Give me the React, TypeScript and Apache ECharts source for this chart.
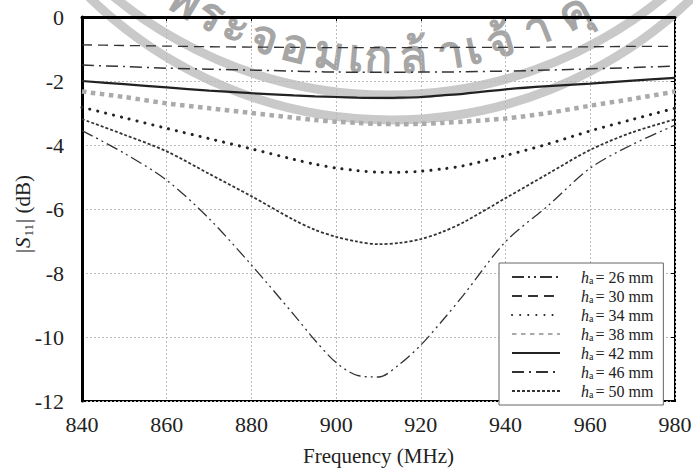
import React, { useEffect, useRef } from "react";
import * as echarts from "echarts";

const freqs = [840, 850, 860, 870, 880, 890, 895, 900, 905, 910, 915, 920, 925, 930, 940, 950, 960, 970, 980];
const h26 = [-3.55, -4.26, -5.1, -6.3, -7.75, -9.3, -10.1, -10.8, -11.2, -11.25, -10.85, -10.25, -9.5, -8.7, -7.02, -5.9, -4.72, -3.98, -3.38];
const h30 = [-0.87, -0.89, -0.91, -0.93, -0.94, -0.95, -0.955, -0.96, -0.96, -0.96, -0.96, -0.96, -0.955, -0.95, -0.95, -0.94, -0.93, -0.92, -0.92];
const h34 = [-2.82, -3.15, -3.48, -3.8, -4.12, -4.45, -4.6, -4.72, -4.8, -4.85, -4.85, -4.82, -4.75, -4.65, -4.33, -3.97, -3.56, -3.2, -2.85];
const h38 = [-2.33, -2.5, -2.7, -2.85, -3.0, -3.15, -3.22, -3.27, -3.31, -3.34, -3.35, -3.34, -3.31, -3.27, -3.17, -3.0, -2.77, -2.56, -2.33];
const h42 = [-2.0, -2.1, -2.2, -2.3, -2.38, -2.45, -2.48, -2.5, -2.52, -2.53, -2.52, -2.5, -2.45, -2.4, -2.26, -2.16, -2.08, -1.99, -1.9];
const h46 = [-1.5, -1.55, -1.6, -1.63, -1.66, -1.69, -1.71, -1.72, -1.73, -1.73, -1.73, -1.72, -1.72, -1.71, -1.69, -1.66, -1.62, -1.58, -1.53];
const h50 = [-3.19, -3.68, -4.2, -4.9, -5.6, -6.34, -6.65, -6.87, -7.02, -7.1, -7.06, -6.94, -6.72, -6.42, -5.66, -4.9, -4.15, -3.6, -3.2];

const heights = ["26", "30", "34", "38", "42", "46", "50"];
const seriesValues = [h26, h30, h34, h38, h42, h46, h50];
const xTicks = { min: 840, max: 980, interval: 20 };
const yTicks = { min: -12, max: 0, interval: 2 };

const SERIF = "Liberation Serif";

const lineStyles: any[] = [
  { color: "#333", width: 1.3, type: [12, 4, 2, 4, 2, 4] },
  { color: "#333", width: 1.3, type: [10, 6] },
  { color: "#222", width: 3, type: [0.1, 8], cap: "round" },
  { color: "#aaa", width: 4.5, type: [4.5, 4.5], cap: "butt" },
  { color: "#222", width: 2.2, type: "solid" },
  { color: "#333", width: 1.5, type: [12, 5, 2, 5] },
  { color: "#333", width: 1.8, type: [3, 2] },
];

// watermark (scanned seal text)
const thai = ["พ", "ร", "ะ", "จ", "อ", "ม", "เ", "ก", "ล้", "า", "เ", "จ้", "า", "คุ"];
const thaiX = [186, 212, 237, 265, 296, 330, 356, 378, 413, 450, 473, 500, 536, 573];

export default function App() {
  const ref = useRef<HTMLDivElement>(null);
  useEffect(() => {
    const chart = echarts.init(ref.current!, null, { renderer: "svg" });

    const wmCx = 389, wmCy = -339, wmR = 394;
    const textEls = thai.map((ch, i) => {
      const th = Math.acos(Math.max(-1, Math.min(1, (thaiX[i] - wmCx) / wmR)));
      const deg = (th * 180) / Math.PI;
      return {
        type: "text",
        x: wmCx + wmR * Math.cos(th),
        y: wmCy + wmR * Math.sin(th),
        rotation: (-(deg - 90) * Math.PI) / 180,
        style: {
          text: ch,
          fill: "rgba(150,150,150,0.85)",
          font: "bold 46px 'Noto Sans', 'DejaVu Sans', sans-serif",
          align: "center",
          verticalAlign: "middle",
        },
        z: 0,
      };
    });

    const names = heights.map((h) => `ha = ${h} mm`);
    const yNameStyle = (text: string, font: string) => ({
      text, font, fill: "#222", align: "left", verticalAlign: "middle",
    });

    chart.setOption({
      animation: false,
      backgroundColor: "#fff",
      grid: {
        left: 82, right: 18, top: 17, bottom: 69,
        containLabel: false, outerBoundsMode: "none",
        show: true, borderColor: "#000", borderWidth: 2, backgroundColor: "transparent",
      },
      xAxis: [
        {
          type: "value",
          ...xTicks,
          name: "Frequency (MHz)",
          nameLocation: "middle",
          nameGap: 44,
          nameTextStyle: { fontFamily: SERIF, fontSize: 21, color: "#222" },
          axisLine: { lineStyle: { color: "#000", width: 3 } },
          axisTick: { show: false },
          axisLabel: { fontFamily: SERIF, fontSize: 22, color: "#222", margin: 12 },
          splitLine: { show: true, lineStyle: { color: "#bbb", type: [2, 2], width: 1 } },
        },
        {
          type: "value",
          position: "top",
          ...xTicks,
          axisLine: { show: false },
          axisTick: { show: true, inside: true, length: 4, lineStyle: { color: "#000" } },
          axisLabel: { show: false },
          splitLine: { show: false },
        },
      ],
      yAxis: [
        {
          type: "value",
          ...yTicks,
          axisLine: { lineStyle: { color: "#000", width: 3 } },
          axisTick: { show: false },
          axisLabel: { fontFamily: SERIF, fontSize: 22, color: "#222", margin: 18 },
          splitLine: { show: true, lineStyle: { color: "#bbb", type: [2, 2], width: 1 } },
        },
        {
          type: "value",
          position: "right",
          ...yTicks,
          axisLine: { show: false },
          axisTick: { show: true, inside: true, length: 4, lineStyle: { color: "#000" } },
          axisLabel: { show: false },
          splitLine: { show: false },
        },
      ],
      legend: {
        orient: "vertical",
        left: 499,
        top: 263,
        itemWidth: 48,
        itemHeight: 12,
        itemGap: 3,
        backgroundColor: "#fff",
        borderColor: "#666",
        borderWidth: 1,
        borderRadius: 0,
        padding: [6, 10, 6, 12],
        itemStyle: { opacity: 0 },
        data: names,
        formatter: (name: string) => {
          const m = name.match(/(\d+)/);
          return `{i|h}{s|a}{t|= ${m ? m[1] : ""} mm}`;
        },
        textStyle: {
          fontFamily: SERIF,
          fontSize: 16,
          color: "#222",
          rich: {
            i: { fontFamily: SERIF, fontSize: 16, fontStyle: "italic", color: "#222", padding: [0, 0, 0, 16] },
            s: { fontFamily: SERIF, fontSize: 10, color: "#222", verticalAlign: "bottom" },
            t: { fontFamily: SERIF, fontSize: 16, color: "#222", padding: [0, 0, 0, 2] },
          },
        },
      },
      graphic: [
        {
          type: "arc",
          shape: { cx: 391, cy: -312, r: 432, startAngle: (38 * Math.PI) / 180, endAngle: (142 * Math.PI) / 180 },
          style: { stroke: "#c9c9c9", lineWidth: 9, fill: "none" },
          z: 0,
        },
        {
          type: "arc",
          shape: { cx: 389, cy: -339, r: 434, startAngle: (35 * Math.PI) / 180, endAngle: (145 * Math.PI) / 180 },
          style: { stroke: "#c9c9c9", lineWidth: 9, fill: "none" },
          z: 0,
        },
        ...textEls,
        {
          type: "group",
          x: 23,
          y: 214,
          rotation: Math.PI / 2,
          z: 5,
          children: [
            { type: "text", x: -39, y: 0, style: yNameStyle("|", "21px Liberation Serif") },
            { type: "text", x: -34, y: 0, style: yNameStyle("S", "italic 21px Liberation Serif") },
            { type: "text", x: -22.5, y: 5, style: yNameStyle("11", "13px Liberation Serif") },
            { type: "text", x: -9, y: 0, style: yNameStyle("| (dB)", "21px Liberation Serif") },
          ],
        },
      ],
      series: seriesValues.map((vals, i) => ({
        name: names[i],
        type: "line",
        smooth: 0.3,
        symbol: "none",
        data: freqs.map((f, j) => [f, vals[j]]),
        lineStyle: lineStyles[i],
        itemStyle: { color: lineStyles[i].color },
        z: 3,
      })),
    });
    return () => chart.dispose();
  }, []);
  return <div ref={ref} style={{ position: "fixed", left: 0, top: 0, width: 693, height: 470 }} />;
}
